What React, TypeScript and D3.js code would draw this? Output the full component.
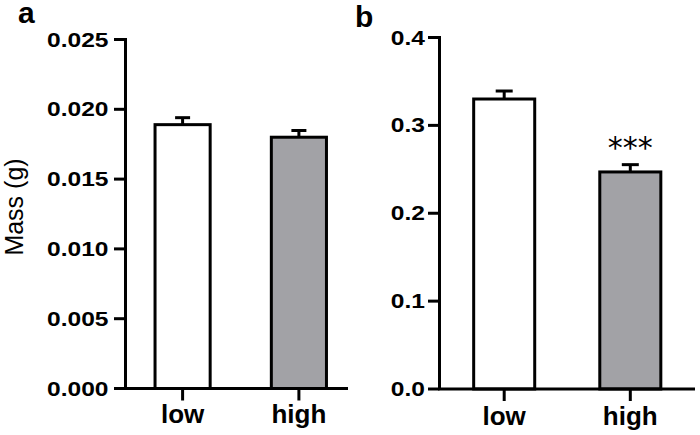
import React from "react";
import * as d3 from "d3";

const categories = ["low", "high"];
const massA = [0.0189, 0.018];
const semA = [0.0005, 0.00048];
const massB = [0.330, 0.247];
const semB = [0.0091, 0.0083];
const ticksA = [0, 0.005, 0.01, 0.015, 0.02, 0.025];
const ticksB = [0, 0.1, 0.2, 0.3, 0.4];
const fills = ["#ffffff", "#a2a2a6"];
const sigA = ["", ""];
const sigB = ["", "***"];

const FONT = "'Liberation Sans', Arial, Helvetica, sans-serif";

type PanelProps = {
  label: string;
  labelX: number;
  labelY: number;
  labelSize: number;
  values: number[];
  sems: number[];
  sig: string[];
  ticks: number[];
  fmt: (v: number) => string;
  yMax: number;
  axisX: number;
  yTop: number;
  yBottom: number;
  bandEnd: number;
  axisEnd: number;
  pInner: number;
  pOuter: number;
  capW: number;
  labelGap: number;
  xLabelY: number;
};

function Panel(p: PanelProps) {
  const x = d3
    .scaleBand<string>()
    .domain(categories)
    .range([p.axisX, p.bandEnd])
    .paddingInner(p.pInner)
    .paddingOuter(p.pOuter);
  const y = d3.scaleLinear().domain([0, p.yMax]).range([p.yBottom, p.yTop]);
  const bw = x.bandwidth();
  const sw = 3;
  const tickLen = 11.5;
  return (
    <g>
      <text x={p.labelX} y={p.labelY} fontFamily={FONT} fontWeight="bold" fontSize={p.labelSize} fill="#000">
        {p.label}
      </text>
      {categories.map((c, i) => {
        const cx = (x(c) as number) + bw / 2;
        return (
          <g key={c}>
            <rect
              x={x(c) as number}
              y={y(p.values[i])}
              width={bw}
              height={y(0) - y(p.values[i])}
              fill={fills[i]}
              stroke="#000"
              strokeWidth={sw}
            />
            <line x1={cx} x2={cx} y1={y(p.values[i])} y2={y(p.values[i] + p.sems[i])} stroke="#000" strokeWidth={sw} />
            <line
              x1={cx - p.capW / 2}
              x2={cx + p.capW / 2}
              y1={y(p.values[i] + p.sems[i])}
              y2={y(p.values[i] + p.sems[i])}
              stroke="#000"
              strokeWidth={sw}
            />
            {p.sig[i] ? (
              <text x={cx} y={y(p.values[i] + p.sems[i]) - 7} textAnchor="middle" fontFamily="'DejaVu Sans', sans-serif" fontSize={30} fill="#000">
                {p.sig[i]}
              </text>
            ) : null}
            <line x1={cx} x2={cx} y1={y(0)} y2={y(0) + 12} stroke="#000" strokeWidth={sw} />
            <text x={cx} y={p.xLabelY} textAnchor="middle" fontFamily={FONT} fontWeight="bold" fontSize={26} fill="#000">
              {c}
            </text>
          </g>
        );
      })}
      {p.ticks.map((t) => (
        <g key={t}>
          <line x1={p.axisX - tickLen} x2={p.axisX} y1={y(t)} y2={y(t)} stroke="#000" strokeWidth={sw} />
          <text
            transform={`translate(${p.axisX - tickLen - p.labelGap},${y(t) + 7}) scale(1.17,1)`}
            textAnchor="end"
            fontFamily={FONT}
            fontWeight="bold"
            fontSize={21}
            fill="#000"
          >
            {p.fmt(t)}
          </text>
        </g>
      ))}
      <line x1={p.axisX} x2={p.axisX} y1={y(p.yMax) - sw / 2} y2={y(0)} stroke="#000" strokeWidth={sw} />
      <line x1={p.axisX - sw / 2} x2={p.axisEnd} y1={y(0)} y2={y(0)} stroke="#000" strokeWidth={sw} />
    </g>
  );
}

export default function App() {
  return (
    <svg width={700} height={435} style={{ position: "absolute", left: 0, top: 0, background: "#fff" }}>
      <rect x={0} y={0} width={700} height={435} fill="#fff" />
      <Panel
        label="a"
        labelX={18}
        labelY={23}
        labelSize={30}
        values={massA}
        sems={semA}
        sig={sigA}
        ticks={ticksA}
        fmt={d3.format(".3f")}
        yMax={0.025}
        axisX={125.5}
        yTop={39.5}
        yBottom={388.5}
        bandEnd={356}
        axisEnd={348}
        pInner={0.526}
        pOuter={0.254}
        capW={15}
        labelGap={5.5}
        xLabelY={423}
      />
      <Panel
        label="b"
        labelX={355}
        labelY={27}
        labelSize={30}
        values={massB}
        sems={semB}
        sig={sigB}
        ticks={ticksB}
        fmt={d3.format(".1f")}
        yMax={0.4}
        axisX={439.5}
        yTop={37.5}
        yBottom={389}
        bandEnd={695}
        axisEnd={695}
        pInner={0.516}
        pOuter={0.271}
        capW={17}
        labelGap={3}
        xLabelY={425}
      />
      <text
        transform="translate(23,207) rotate(-90)"
        textAnchor="middle"
        fontFamily={FONT}
        fontSize={25}
        fill="#000"
      >
        Mass (g)
      </text>
    </svg>
  );
}
